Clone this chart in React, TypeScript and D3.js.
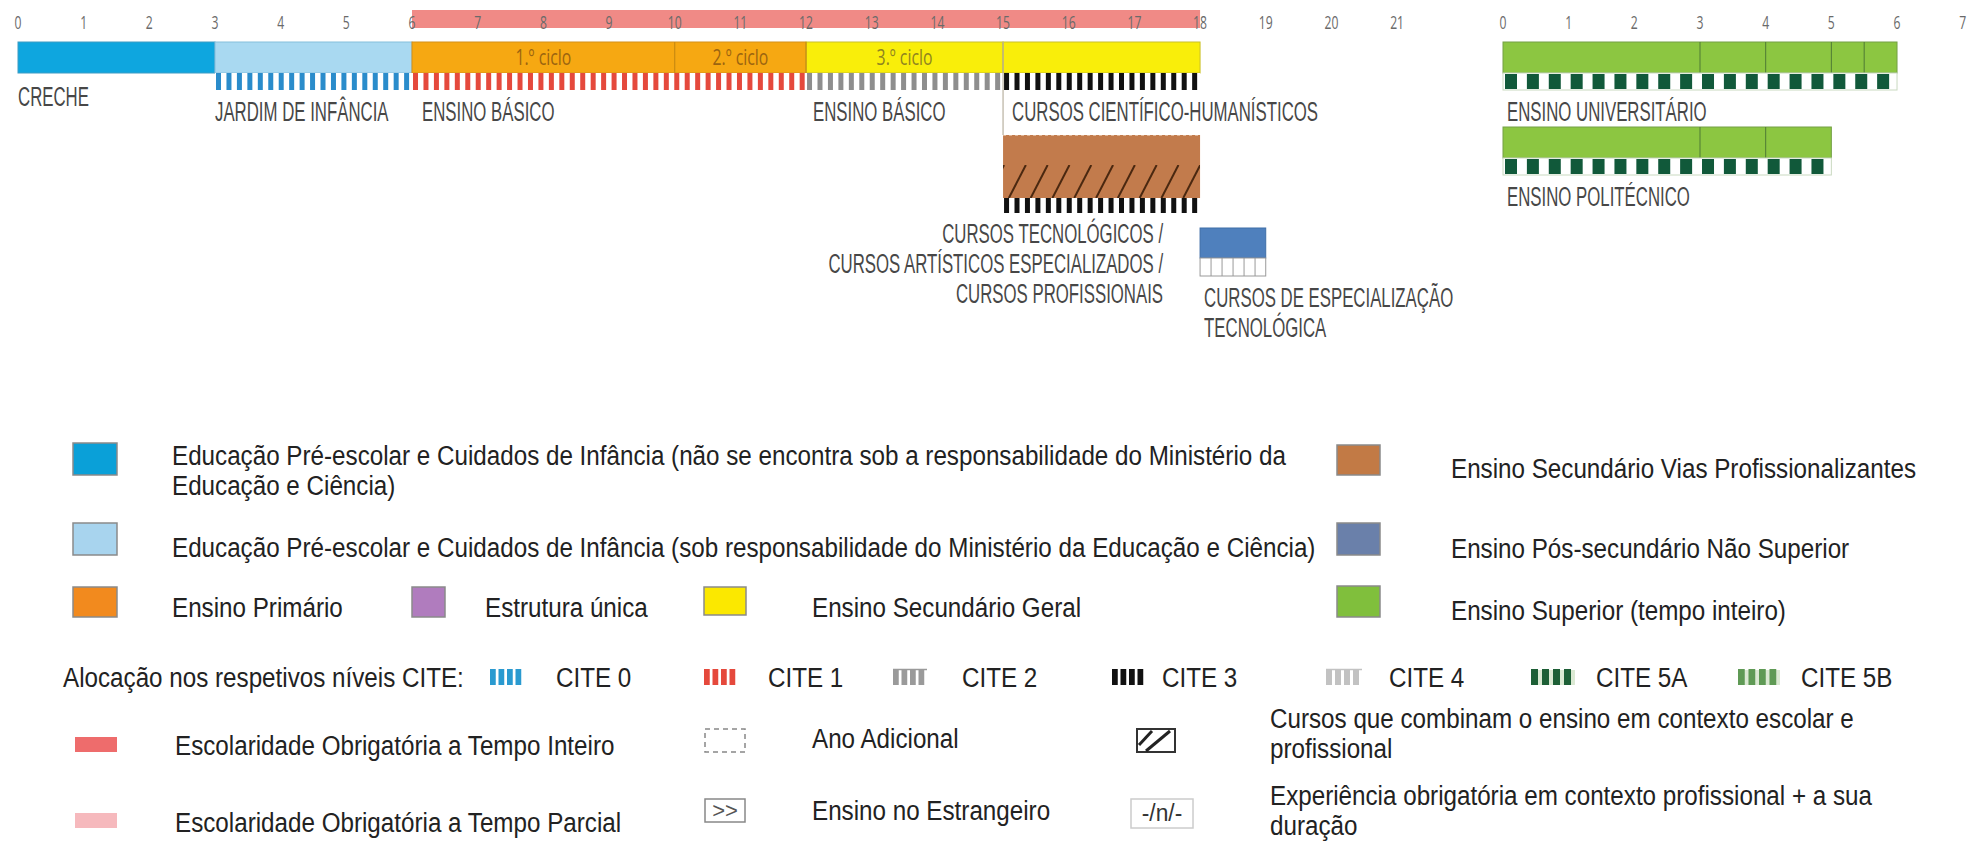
import * as d3 from "d3";

// ages shown on the top axis and on the higher-education axis
const ageTicks = [0, 1, 2, 3, 4, 5, 6, 7, 8, 9, 10, 11, 12, 13, 14, 15, 16, 17, 18, 19, 20, 21];
const superiorTicks = [0, 1, 2, 3, 4, 5, 6, 7];

// compulsory full-time schooling (ages)
const compulsory = [6, 18];

// main row of programmes
const stageLabels = ["CRECHE", "JARDIM DE INFÂNCIA", "ENSINO BÁSICO", "ENSINO BÁSICO", "CURSOS CIENTÍFICO-HUMANÍSTICOS"];
const stageStart = [0, 3, 6, 12, 15];
const stageEnd = [3, 6, 12, 15, 18];
const stageType = ["creche", "jardim", "primario", "geral", "geral"];
const stageCite = ["", "0", "1", "2", "3"];

const cycleLabels = ["1.º ciclo", "2.º ciclo", "3.º ciclo"];
const cycleStart = [6, 10, 12];
const cycleEnd = [10, 12, 15];

// vocational upper secondary
const vocLabel = ["CURSOS TECNOLÓGICOS /", "CURSOS ARTÍSTICOS ESPECIALIZADOS /", "CURSOS PROFISSIONAIS"];
const vocSpan = [15, 18];

// post-secondary non tertiary
const postLabel = ["CURSOS DE ESPECIALIZAÇÃO", "TECNOLÓGICA"];
const postSpan = [18, 19];

// tertiary (years of study)
const tertiaryLabels = ["ENSINO UNIVERSITÁRIO", "ENSINO POLITÉCNICO"];
const tertiaryEnd = [6, 5];
const tertiaryDividers = [[3, 4, 5, 5.5], [3, 4]];

const fills: Record<string, string> = {
  creche: "#0ea6df",
  jardim: "#a9d9f1",
  primario: "#f6a812",
  geral: "#f9ee0a",
  voc: "#c27b4c",
  post: "#4f80bd",
  sup: "#8cc641",
  obrig: "#f08a86",
};
const edges: Record<string, string> = {
  creche: "#3d9cc4",
  jardim: "#86bfdc",
  primario: "#d4901a",
  geral: "#c9bf2a",
};
const citeColor: Record<string, string> = {
  "0": "#2a8ccb",
  "1": "#e5493c",
  "2": "#8e8e8e",
  "3": "#111111",
};

const LABEL_FONT = "'Liberation Sans', Arial, sans-serif";
const TICK_FONT = "'Open Sans', sans-serif";
const LEG_FONT = "'Liberation Sans', Arial, sans-serif";

// condensed text; several lines go into one <text> as tspans
function Cond({ x, y, lines, anchor = "start", size = 28, sx = 0.6, fill = "#474747", font = LABEL_FONT, lh = 30 }: any) {
  const rows: string[] = Array.isArray(lines) ? lines : [String(lines)];
  return (
    <text
      transform={`translate(${x},${y}) scale(${sx},1)`}
      fontSize={size}
      fontFamily={font}
      textAnchor={anchor}
      fill={fill}
    >
      {rows.map((r, i) => (
        <tspan key={i} x={0} dy={i === 0 ? 0 : lh}>
          {r}
        </tspan>
      ))}
    </text>
  );
}

function Leg({ x, y, lines, lh = 30 }: any) {
  return <Cond x={x} y={y} lines={lines} size={28} sx={0.865} fill="#222" font={LEG_FONT} lh={lh} />;
}

function stripes(key: string, x0: number, x1: number, y: number, h: number, period: number, bw: number, color: string) {
  return d3.range(x0 + 1, x1 - bw / 2, period).map((x, i) => (
    <rect key={`${key}-${i}`} x={x} y={y} width={Math.min(bw, x1 - x)} height={h} fill={color} />
  ));
}

export default function App() {
  const xAge = d3.scaleLinear().domain([0, 21]).range([18, 18 + 21 * 65.67]);
  const xSup = d3.scaleLinear().domain([0, 7]).range([1503, 1503 + 7 * 65.67]);

  const barY = 42;
  const barH = 31;
  const stripY = barY + barH;
  const stripH = 17;

  const vocY = 135;
  const vx0 = xAge(vocSpan[0]);
  const vx1 = xAge(vocSpan[1]);

  const px0 = xAge(postSpan[0]);
  const px1 = xAge(postSpan[1]);

  const tertiaryY = [42, 127];

  // legend helpers
  const sw = (x: number, y: number, w: number, h: number, fill: string, stroke = "#8a8a8a") => (
    <rect x={x} y={y} width={w} height={h} fill={fill} stroke={stroke} strokeWidth={1.5} />
  );
  const citeSwatch = (key: string, x: number, color: string, w = 34, top = false) => (
    <g key={key}>
      {d3.range(0, 4).map((i) => (
        <rect key={i} x={x + i * (w / 4)} y={669} width={w / 8 + 1.5} height={16} fill={color} />
      ))}
      {top && <line x1={x} x2={x + w} y1={669.5} y2={669.5} stroke={color} strokeWidth={1.5} />}
    </g>
  );

  return (
    <svg width={1977} height={843} style={{ position: "absolute", left: 0, top: 0, background: "#fff" }}>
      <defs>
        <clipPath id="vocClip">
          <rect x={vx0} y={vocY + 30} width={vx1 - vx0} height={33} />
        </clipPath>
      </defs>

      {/* compulsory schooling band */}
      <rect x={xAge(compulsory[0])} y={10} width={xAge(compulsory[1]) - xAge(compulsory[0])} height={18} fill={fills.obrig} />

      {/* age axis */}
      {ageTicks.map((t) => (
        <Cond key={t} x={xAge(t)} y={29} lines={t} anchor="middle" size={19} sx={0.64} fill="#6a6a6a" font={TICK_FONT} />
      ))}
      {superiorTicks.map((t) => (
        <Cond key={"s" + t} x={xSup(t)} y={29} lines={t} anchor="middle" size={19} sx={0.64} fill="#6a6a6a" font={TICK_FONT} />
      ))}

      {/* main programmes */}
      {stageStart.map((s, i) => (
        <rect
          key={"st" + i}
          x={xAge(s)}
          y={barY}
          width={xAge(stageEnd[i]) - xAge(s)}
          height={barH}
          fill={fills[stageType[i]]}
          stroke={edges[stageType[i]]}
          strokeWidth={1}
        />
      ))}
      {stageStart.map((s, i) =>
        stageCite[i] ? (
          <g key={"cs" + i}>
            <rect x={xAge(s)} y={stripY} width={xAge(stageEnd[i]) - xAge(s)} height={stripH} fill="#fff" />
            {stripes("c" + i, xAge(s), xAge(stageEnd[i]), stripY, stripH, 10.45, 5, citeColor[stageCite[i]])}
          </g>
        ) : null
      )}
      {/* cycle dividers */}
      {cycleStart.slice(1).map((c) => (
        <line key={"cd" + c} x1={xAge(c)} x2={xAge(c)} y1={barY} y2={barY + barH} stroke="#c98a12" strokeWidth={1.2} />
      ))}
      <line x1={xAge(15)} x2={xAge(15)} y1={barY} y2={vocY} stroke="#b9b1a0" strokeWidth={1.2} />
      {cycleLabels.map((c, i) => (
        <Cond
          key={c}
          x={(xAge(cycleStart[i]) + xAge(cycleEnd[i])) / 2}
          y={barY + 23}
          lines={c}
          anchor="middle"
          size={22}
          sx={0.72}
          fill={i < 2 ? "#9b6410" : "#8f8420"}
          font={TICK_FONT}
        />
      ))}
      {stageLabels.map((l, i) => (
        <Cond
          key={"sl" + i}
          x={xAge(stageStart[i]) + (i === 3 ? 7 : i === 4 ? 9 : i === 2 ? 10 : 0)}
          y={i === 0 ? 106 : 121}
          lines={l}
        />
      ))}

      {/* vocational courses */}
      <rect x={vx0} y={vocY} width={vx1 - vx0} height={63} fill={fills.voc} />
      <line x1={vx0} x2={vx1} y1={vocY + 0.5} y2={vocY + 0.5} stroke="#e0b595" strokeWidth={1} strokeDasharray="3 3" />
      <g clipPath="url(#vocClip)">
        {d3.range(vx0 - 16, vx1 + 16, 21.8).map((x, i) => (
          <line key={"h" + i} x1={x} y1={vocY + 63} x2={x + 17} y2={vocY + 30} stroke="#4a2810" strokeWidth={2} />
        ))}
      </g>
      <rect x={vx0} y={vocY + 63} width={vx1 - vx0} height={15} fill="#fff" />
      {stripes("vc", vx0, vx1, vocY + 63, 15, 10.45, 5, citeColor["3"])}
      <Cond x={vx1 - 37} y={243} lines={vocLabel} anchor="end" />

      {/* post-secondary */}
      <rect x={px0} y={228} width={px1 - px0} height={30} fill={fills.post} stroke="#3f6ea8" strokeWidth={1} />
      <rect x={px0} y={258} width={px1 - px0} height={18} fill="#fff" stroke="#9a9a9a" strokeWidth={1} />
      {d3.range(px0 + 11, px1, 11).map((x, i) => (
        <line key={"p" + i} x1={x} x2={x} y1={258} y2={276} stroke="#9a9a9a" strokeWidth={1} />
      ))}
      <Cond x={px0 + 4} y={307} lines={postLabel} />

      {/* tertiary */}
      {tertiaryLabels.map((l, i) => {
        const y0 = tertiaryY[i];
        const x0 = xSup(0);
        const x1 = xSup(tertiaryEnd[i]);
        return (
          <g key={l}>
            <rect x={x0} y={y0} width={x1 - x0} height={barH} fill={fills.sup} stroke="#74a046" strokeWidth={1} />
            {tertiaryDividers[i].map((d) => (
              <line key={d} x1={xSup(d)} x2={xSup(d)} y1={y0} y2={y0 + barH} stroke="#4f7a35" strokeWidth={1} />
            ))}
            <rect x={x0} y={y0 + barH} width={x1 - x0} height={stripH} fill="#fff" stroke="#c9d9c0" strokeWidth={1} />
            {stripes("t" + i, x0 + 1, x1, y0 + barH + 1, stripH - 2, 21.89, 12, "#11593a")}
            <Cond x={x0 + 4} y={y0 + 79} lines={l} />
          </g>
        );
      })}

      {/* legend */}
      {sw(73, 443, 44, 32, "#0aa0d8")}
      <Leg
        x={172}
        y={465}
        lines={[
          "Educação Pré-escolar e Cuidados de Infância (não se encontra sob a responsabilidade do Ministério da",
          "Educação e Ciência)",
        ]}
      />
      {sw(1337, 445, 43, 30, "#c27a45")}
      <Leg x={1451} y={478} lines="Ensino Secundário Vias Profissionalizantes" />

      {sw(73, 523, 44, 32, "#a8d4ee")}
      <Leg
        x={172}
        y={557}
        lines="Educação Pré-escolar e Cuidados de Infância (sob responsabilidade do Ministério da Educação e Ciência)"
      />
      {sw(1337, 523, 43, 32, "#6a80aa")}
      <Leg x={1451} y={558} lines="Ensino Pós-secundário Não Superior" />

      {sw(73, 587, 44, 30, "#f28a1e")}
      <Leg x={172} y={617} lines="Ensino Primário" />
      {sw(412, 587, 33, 30, "#b07cbe")}
      <Leg x={485} y={617} lines="Estrutura única" />
      {sw(704, 587, 42, 28, "#fbe800")}
      <Leg x={812} y={617} lines="Ensino Secundário Geral" />
      {sw(1337, 586, 43, 31, "#80bf3c")}
      <Leg x={1451} y={620} lines="Ensino Superior (tempo inteiro)" />

      <Leg x={63} y={687} lines="Alocação nos respetivos níveis CITE:" />
      {citeSwatch("l0", 490, "#2a9ad0")}
      <Leg x={556} y={687} lines="CITE 0" />
      {citeSwatch("l1", 704, "#e5493c")}
      <Leg x={768} y={687} lines="CITE 1" />
      {citeSwatch("l2", 893, "#9a9a9a", 34, true)}
      <Leg x={962} y={687} lines="CITE 2" />
      {citeSwatch("l3", 1112, "#111")}
      <Leg x={1162} y={687} lines="CITE 3" />
      {citeSwatch("l4", 1326, "#c2c2c2", 36, true)}
      <Leg x={1389} y={687} lines="CITE 4" />
      <rect x={1531} y={670} width={44} height={15} fill="#dbe9d3" />
      {citeSwatch("l5", 1531, "#1d5f36", 44)}
      <Leg x={1596} y={687} lines="CITE 5A" />
      <rect x={1738} y={670} width={42} height={15} fill="#dbe9d3" />
      {citeSwatch("l6", 1738, "#5f9a55", 42)}
      <Leg x={1801} y={687} lines="CITE 5B" />

      <rect x={75} y={737} width={42} height={15} fill="#ee6c6c" />
      <Leg x={175} y={755} lines="Escolaridade Obrigatória a Tempo Inteiro" />
      <rect x={705} y={729} width={40} height={23} fill="none" stroke="#888" strokeWidth={1.5} strokeDasharray="5 4" />
      <Leg x={812} y={748} lines="Ano Adicional" />
      <rect x={1137} y={729} width={38} height={23} fill="#fff" stroke="#333" strokeWidth={2} />
      <line x1={1139} y1={745} x2={1152} y2={731} stroke="#222" strokeWidth={3} />
      <line x1={1146} y1={751} x2={1170} y2={731} stroke="#222" strokeWidth={3} />
      <Leg x={1270} y={728} lines={["Cursos que combinam o ensino em contexto escolar e", "profissional"]} />

      <rect x={75} y={813} width={42} height={15} fill="#f6b9bd" />
      <Leg x={175} y={832} lines="Escolaridade Obrigatória a Tempo Parcial" />
      <rect x={705} y={799} width={40} height={23} fill="#fff" stroke="#888" strokeWidth={1.5} />
      <Cond x={725} y={818} lines=">>" anchor="middle" size={22} sx={1} fill="#555" font={LEG_FONT} />
      <Leg x={812} y={820} lines="Ensino no Estrangeiro" />
      <rect x={1131} y={799} width={62} height={29} fill="#fff" stroke="#ccc" strokeWidth={1.5} />
      <Cond x={1162} y={821} lines="-/n/-" anchor="middle" size={24} sx={0.95} fill="#333" font={LEG_FONT} />
      <Leg x={1270} y={805} lines={["Experiência obrigatória em contexto profissional + a sua", "duração"]} />
    </svg>
  );
}
